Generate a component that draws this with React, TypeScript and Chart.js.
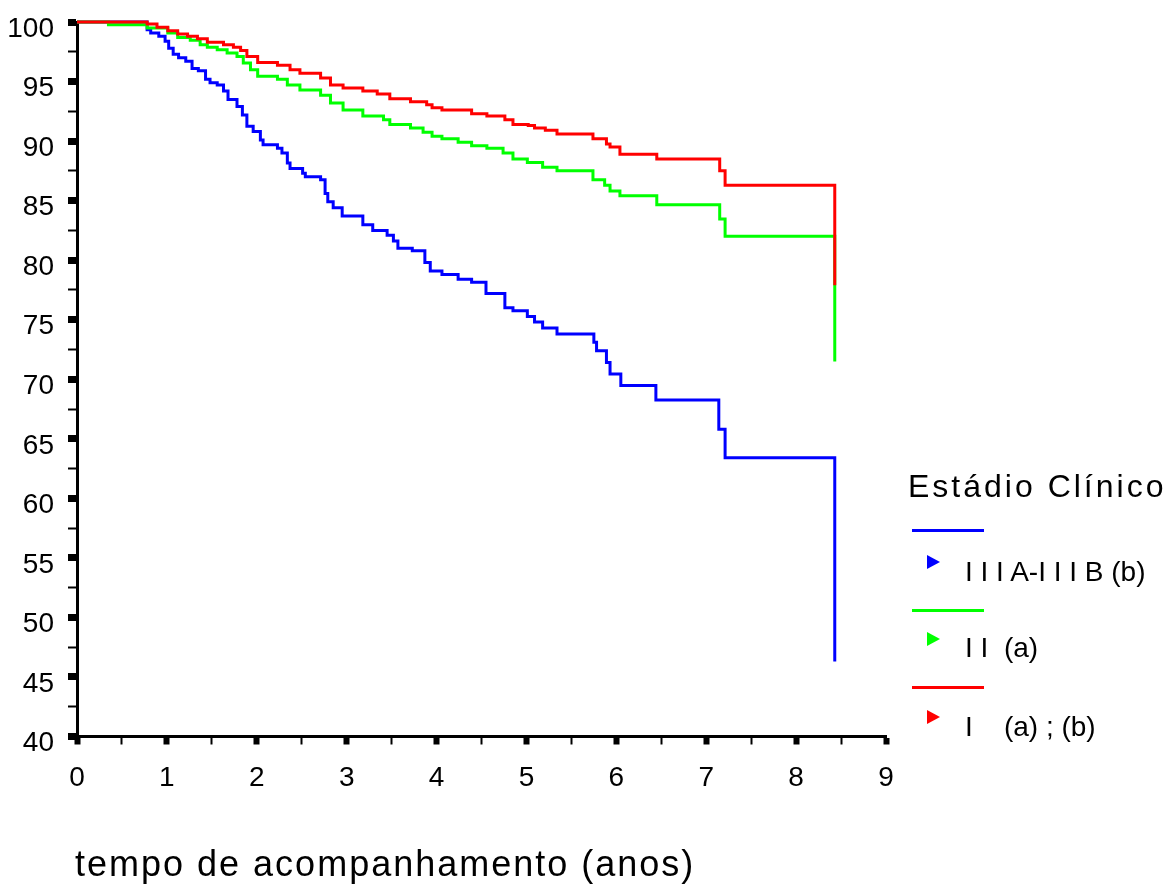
import React, { useEffect, useRef } from 'react';
import { Chart, registerables } from 'chart.js';

Chart.register(...registerables);

const FONT = "'Liberation Sans', Arial, Helvetica, sans-serif";

// Estádio I
const RED_T = [0, 0.78, 0.89, 1.01, 1.12, 1.23, 1.34, 1.45, 1.63, 1.74, 1.82, 1.89, 2.01, 2.23, 2.37, 2.48, 2.71, 2.82, 2.96, 3.18, 3.34, 3.48, 3.71, 3.89, 3.95, 4.06, 4.39, 4.56, 4.76, 4.85, 5.02, 5.09, 5.21, 5.34, 5.74, 5.89, 5.93, 6.04, 6.45, 7.15, 7.21, 8.43];
const RED_V = [100, 99.83, 99.55, 99.27, 99.0, 98.8, 98.6, 98.3, 98.1, 97.87, 97.6, 97.1, 96.6, 96.36, 96.0, 95.7, 95.3, 94.7, 94.45, 94.2, 93.95, 93.55, 93.3, 93.05, 92.8, 92.6, 92.3, 92.1, 91.8, 91.4, 91.3, 91.1, 90.9, 90.6, 90.2, 89.75, 89.5, 88.9, 88.5, 87.5, 86.3, 77.9];

// Estádio II
const GREEN_T = [0, 0.35, 0.78, 1.01, 1.12, 1.26, 1.37, 1.45, 1.56, 1.67, 1.78, 1.85, 1.93, 2.01, 2.23, 2.34, 2.48, 2.71, 2.82, 2.96, 3.18, 3.41, 3.48, 3.71, 3.85, 3.95, 4.06, 4.24, 4.39, 4.56, 4.74, 4.85, 5.01, 5.18, 5.34, 5.74, 5.87, 5.93, 6.04, 6.45, 7.15, 7.21, 8.43];
const GREEN_V = [100, 99.77, 99.5, 99.08, 98.7, 98.46, 98.1, 97.87, 97.67, 97.4, 97.1, 96.55, 96.0, 95.44, 95.2, 94.7, 94.3, 93.85, 93.2, 92.6, 92.1, 91.8, 91.4, 91.1, 90.75, 90.4, 90.2, 89.9, 89.6, 89.4, 89.0, 88.5, 88.2, 87.8, 87.5, 86.75, 86.3, 85.8, 85.4, 84.65, 83.45, 82.0, 71.5];

// Estádio IIIA-IIIB
const BLUE_T = [0, 0.78, 0.82, 0.91, 0.98, 1.02, 1.07, 1.13, 1.21, 1.28, 1.35, 1.43, 1.48, 1.56, 1.63, 1.68, 1.78, 1.84, 1.89, 1.96, 2.04, 2.07, 2.23, 2.28, 2.34, 2.37, 2.51, 2.54, 2.71, 2.76, 2.79, 2.85, 2.95, 3.18, 3.29, 3.45, 3.52, 3.57, 3.73, 3.87, 3.93, 4.06, 4.24, 4.39, 4.55, 4.76, 4.85, 5.01, 5.09, 5.18, 5.34, 5.75, 5.78, 5.89, 5.93, 6.05, 6.44, 7.14, 7.21, 8.43];
const BLUE_V = [100, 99.35, 99.08, 98.8, 98.38, 97.8, 97.3, 97.0, 96.7, 96.1, 95.9, 95.2, 94.9, 94.7, 94.2, 93.5, 92.9, 92.2, 91.25, 90.8, 90.1, 89.7, 89.4, 89.0, 88.15, 87.7, 87.3, 87.0, 86.75, 85.6, 84.9, 84.4, 83.7, 82.97, 82.5, 82.1, 81.6, 81.0, 80.8, 79.8, 79.1, 78.8, 78.4, 78.15, 77.2, 76.0, 75.75, 75.27, 74.8, 74.3, 73.8, 73.1, 72.4, 71.4, 70.45, 69.47, 68.26, 65.8, 63.4, 46.3];

const X_MIN = 0;
const X_MAX = 9;
const Y_MIN = 40;
const Y_MAX = 100;

const LEGEND_TITLE = 'Estádio Clínico';
const LEGEND_LABELS = ['I I I A-I I I B (b)', 'I I  (a)', 'I    (a) ; (b)'];
const LEGEND_COLORS = ['#0000ff', '#00ff00', '#ff0000'];
const X_TITLE = 'tempo de acompanhamento (anos)';

const pts = (t: number[], v: number[]) => t.map((x, i) => ({ x, y: v[i] }));

export default function App() {
  const ref = useRef<HTMLCanvasElement>(null);

  useEffect(() => {
    document.body.style.margin = '0';
    const common = {
      borderWidth: 3,
      pointRadius: 0,
      pointHoverRadius: 0,
      stepped: 'before' as const,
      fill: false,
      clip: false as any,
      tension: 0,
    };
    const tickFont = { family: FONT, size: 28 };
    const chart = new Chart(ref.current!, {
      type: 'line',
      data: {
        datasets: [
          { label: LEGEND_LABELS[2], data: pts(RED_T, RED_V), borderColor: LEGEND_COLORS[2], ...common },
          { label: LEGEND_LABELS[1], data: pts(GREEN_T, GREEN_V), borderColor: LEGEND_COLORS[1], ...common },
          { label: LEGEND_LABELS[0], data: pts(BLUE_T, BLUE_V), borderColor: LEGEND_COLORS[0], ...common },
        ],
      },
      options: {
        responsive: false,
        animation: false,
        events: [],
        layout: { autoPadding: false, padding: { left: 0, top: 22, right: 288, bottom: 0 } },
        plugins: { legend: { display: false }, tooltip: { enabled: false }, title: { display: false } },
        scales: {
          x: {
            type: 'linear',
            min: X_MIN,
            max: X_MAX,
            afterFit: (s: any) => { s.height = 154.5; s.paddingLeft = 0; s.paddingRight = 0; },
            ticks: {
              stepSize: 0.5,
              autoSkip: false,
              maxRotation: 0,
              padding: 17,
              color: '#000',
              font: tickFont,
              callback: (v: any) => (Number.isInteger(v) ? String(v) : ''),
            },
            grid: {
              drawOnChartArea: false,
              drawTicks: true,
              tickLength: 8,
              tickColor: '#000',
              tickWidth: (ctx: any) => (ctx.tick && Number.isInteger(ctx.tick.value) ? 6 : 2),
            },
            border: { display: true, color: '#000', width: 3 },
          },
          y: {
            type: 'linear',
            min: Y_MIN,
            max: Y_MAX,
            afterFit: (s: any) => { s.width = 77; s.paddingTop = 0; s.paddingBottom = 0; },
            ticks: {
              stepSize: 2.5,
              autoSkip: false,
              padding: 14,
              labelOffset: 7,
              color: '#000',
              font: tickFont,
              callback: (v: any) => (v % 5 === 0 ? String(v) : ''),
            },
            grid: {
              drawOnChartArea: false,
              drawTicks: true,
              tickLength: 9,
              tickColor: '#000',
              tickWidth: (ctx: any) => (ctx.tick && ctx.tick.value % 5 === 0 ? 7 : 2),
            },
            border: { display: true, color: '#000', width: 3 },
          },
        },
      },
    } as any);
    return () => chart.destroy();
  }, []);

  const lineTops = [529, 609, 686];
  const triTops = [555, 632, 710];
  const labelTops = [558, 634, 713];

  return (
    <div style={{ position: 'fixed', left: 0, top: 0, width: 1174, height: 891, background: '#fff', fontFamily: FONT, color: '#000' }}>
      <canvas ref={ref} width={1174} height={891} style={{ position: 'absolute', left: 0, top: 0, width: 1174, height: 891 }} />
      <div style={{ position: 'absolute', left: 75, top: 846, fontSize: 36, lineHeight: 1, letterSpacing: '2px', whiteSpace: 'pre' }}>{X_TITLE}</div>
      <div style={{ position: 'absolute', left: 908, top: 470, fontSize: 32, lineHeight: 1, letterSpacing: '3px', whiteSpace: 'pre' }}>{LEGEND_TITLE}</div>
      {LEGEND_LABELS.map((lab, i) => (
        <React.Fragment key={i}>
          <div style={{ position: 'absolute', left: 912, top: lineTops[i], width: 72, height: 2.5, background: LEGEND_COLORS[i] }} />
          <div style={{ position: 'absolute', left: 927, top: triTops[i], width: 0, height: 0, borderTop: '7.5px solid transparent', borderBottom: '7.5px solid transparent', borderLeft: `13px solid ${LEGEND_COLORS[i]}` }} />
          <div style={{ position: 'absolute', left: 965, top: labelTops[i], fontSize: 28, lineHeight: 1, whiteSpace: 'pre' }}>{lab}</div>
        </React.Fragment>
      ))}
    </div>
  );
}
